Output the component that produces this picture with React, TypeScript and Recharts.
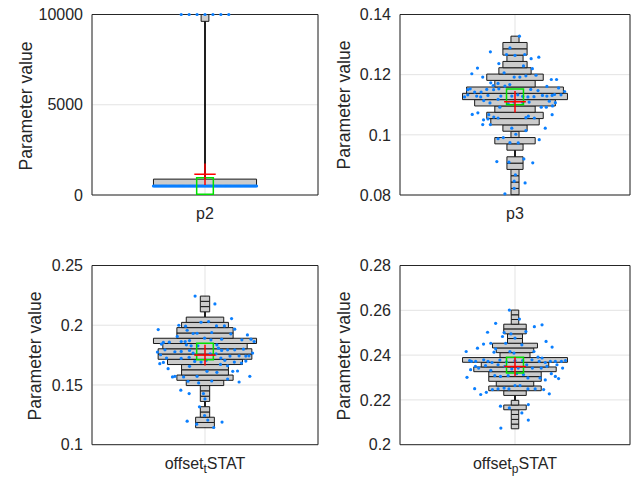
import React from 'react';
import {
  ComposedChart,
  XAxis,
  YAxis,
  CartesianGrid,
  Scatter,
  ReferenceArea,
  ReferenceLine
} from 'recharts';

const FONT = '"Liberation Sans", Arial, Helvetica, sans-serif';
const INK = '#262626';

// ---- p2: samples pile up at the lower bound, a few reach the upper bound
const p2Levels = [500, 10000];
const p2LevelCounts = [93, 7];
const p2BinEdges = [
  500, 880, 1260, 1640, 2020, 2400, 2780, 3160, 3540, 3920, 4300, 4680, 5060,
  5440, 5820, 6200, 6580, 6960, 7340, 7720, 8100, 8480, 8860, 9240, 9620, 10000
];
const p2BinCounts = [93, 0, 0, 0, 0, 0, 0, 0, 0, 0, 0, 0, 0, 0, 0, 0, 0, 0, 0, 0, 0, 0, 0, 0, 7];

// ---- p3
const p3Values = [
  0.1328, 0.1289, 0.1276, 0.1267, 0.1264, 0.1267, 0.1258, 0.1253, 0.1237, 0.1229,
  0.1222, 0.1203, 0.1206, 0.122, 0.1192, 0.1192, 0.1192, 0.1196, 0.1198, 0.1184,
  0.1184, 0.1171, 0.1173, 0.1164, 0.1151, 0.1153, 0.1162, 0.115, 0.1153, 0.1142,
  0.1142, 0.115, 0.1167, 0.1151, 0.1161, 0.1156, 0.1144, 0.1147, 0.1126, 0.1129,
  0.1126, 0.1131, 0.1129, 0.1129, 0.1133, 0.1128, 0.1126, 0.1127, 0.1131, 0.1129,
  0.1131, 0.1134, 0.1133, 0.1133, 0.1114, 0.1106, 0.1118, 0.1108, 0.1109, 0.1112,
  0.1107, 0.1109, 0.1092, 0.1103, 0.1092, 0.1092, 0.1096, 0.1068, 0.1073, 0.105,
  0.1067, 0.1053, 0.1059, 0.1034, 0.1034, 0.1056, 0.1057, 0.1062, 0.1056, 0.1067,
  0.1022, 0.1014, 0.1022, 0.1002, 0.0991, 0.0974, 0.0973, 0.0987, 0.0984, 0.092,
  0.0911, 0.0909, 0.0907, 0.0867, 0.0846, 0.0822, 0.084, 0.0804
];
const p3Jitter = [
  1.1, -1.25, -6.1, -2.1, 0, 2.4, 5.9, 4, -4, 2.1,
  -9.3, -10.7, -2.7, 4.3, -8, -0.2, 1.2, 2.7, 5.2, 9,
  10.3, -4.2, -6, -5.4, -7, -4, -2.5, -11.7, -11.1, -10,
  -8.4, -5.3, -1.3, 3.9, 7.9, 10.8, 12.3, 5.7, -12.5, -9.5,
  -8.5, -6.7, -3.5, -0.8, 0.7, 1.9, 3.2, 4.7, 6.8, 7.9,
  9.2, 9.8, 11.4, -11.7, -7.75, -6.2, -4.2, 1.9, 3.5, 8.5,
  10, -0.25, -3.75, -1.7, 6.5, 7.75, 9.3, -10.6, -9.2, -7.8,
  -6.5, -6.7, -5.25, -8, -6.1, -4.2, 2.7, 3.3, 4.8, 9.2,
  7.5, 2.7, -0.8, 0.2, -2.9, -1.25, 0.8, -4.2, 6, 2.2,
  -4.5, -1.5, 4.4, 0.1, -0.2, -0.2, 2.5, -2.5
];
const p3BinEdges = [
  0.0801, 0.0822, 0.0843, 0.0864, 0.0885, 0.0906, 0.0927, 0.0949, 0.097, 0.0991,
  0.1012, 0.1033, 0.1054, 0.1075, 0.1096, 0.1117, 0.1138, 0.1159, 0.1181, 0.1202,
  0.1223, 0.1244, 0.1265, 0.1286, 0.1307, 0.1328
];
const p3BinCounts = [1, 1, 1, 1, 2, 2, 0, 2, 5, 1, 3, 6, 7, 5, 10, 13, 12, 5, 7, 4, 3, 2, 3, 3, 1];

// ---- offset_t STAT
const offTValues = [
  0.2244, 0.2178, 0.2025, 0.2031, 0.2056, 0.2, 0.1992, 0.1994, 0.1994, 0.1964,
  0.1958, 0.1967, 0.1931, 0.1933, 0.1939, 0.1928, 0.1919, 0.1906, 0.1892, 0.1878,
  0.1883, 0.1856, 0.1858, 0.1864, 0.1864, 0.1872, 0.1878, 0.1883, 0.1864, 0.1842,
  0.1836, 0.1828, 0.1828, 0.1836, 0.1775, 0.1794, 0.1778, 0.1781, 0.1789, 0.1808,
  0.1789, 0.1794, 0.1794, 0.18, 0.1767, 0.1753, 0.1767, 0.1761, 0.1761, 0.1742,
  0.1744, 0.1742, 0.1744, 0.1689, 0.1678, 0.1722, 0.1731, 0.1697, 0.1692, 0.1706,
  0.1725, 0.1706, 0.1692, 0.17, 0.1725, 0.1683, 0.1636, 0.1656, 0.1614, 0.1672,
  0.1606, 0.1661, 0.1614, 0.1617, 0.1567, 0.1572, 0.1572, 0.1533, 0.155, 0.1572,
  0.1567, 0.1531, 0.1525, 0.1517, 0.1456, 0.1428, 0.1428, 0.1383, 0.1317, 0.1244,
  0.1197, 0.1172, 0.1144, 0.1189, 0.1206
];
const offTJitter = [
  -2.5, 2.5, -1, 0.9, 6.7, -6.6, -4.9, 2.9, 4.9, -11.8,
  -4.5, 7.5, -3, -2, 1.7, 6.5, 10.7, -7, -0.1, 1.5,
  4.2, -10.5, -9, -6, -5, -3.9, 9.3, 11.6, 12.4, -11,
  -4.7, -3.5, -1.8, 3, -12, -10.1, -7.6, -6, -3.9, 3.4,
  4.2, 5.7, 7.5, 9.7, 12, -11.2, -3, 1.3, 2.8, 6.3,
  8.6, 10.3, 11.1, -10.5, -11.4, -6, -4, -2.6, -1, 0.3,
  4, 5, 7.4, 10.3, -9.7, 9.2, -9.3, -3.9, 0.5, 3.9,
  3, 5.7, 7, 8.2, -8.2, -7.6, -2, 1.7, 5.7, 11.3,
  -5.4, -4.3, 8.6, -1.6, -6.1, -4, -0.4, 0, -1.4, -0.1,
  -4.5, -2.1, 2.2, 4.3, 0.7
];
const offTBinEdges = [
  0.1142, 0.1186, 0.123, 0.1274, 0.1318, 0.1362, 0.1406, 0.1451, 0.1495, 0.1539,
  0.1583, 0.1627, 0.1671, 0.1715, 0.1759, 0.1803, 0.1847, 0.1891, 0.1935, 0.198,
  0.2024, 0.2068, 0.2112, 0.2156, 0.22, 0.2244
];
const offTBinCounts = [2, 2, 1, 1, 0, 1, 1, 1, 4, 6, 5, 5, 8, 10, 10, 9, 11, 6, 6, 5, 4, 0, 1, 1, 1];

// ---- offset_p STAT
const offPValues = [
  0.2601, 0.2561, 0.2542, 0.2527, 0.2535, 0.2502, 0.2501, 0.2495, 0.2505, 0.2483,
  0.2476, 0.2461, 0.2449, 0.2453, 0.2428, 0.2453, 0.2446, 0.2431, 0.2436, 0.2416,
  0.2413, 0.2416, 0.2409, 0.2416, 0.2372, 0.2376, 0.2372, 0.2379, 0.2372, 0.2367,
  0.2378, 0.237, 0.2375, 0.2376, 0.2379, 0.2372, 0.2367, 0.2372, 0.2372, 0.2372,
  0.2376, 0.2387, 0.2391, 0.2335, 0.235, 0.2342, 0.2353, 0.2332, 0.2357, 0.235,
  0.2338, 0.2342, 0.2357, 0.2342, 0.2342, 0.235, 0.2357, 0.2342, 0.2301, 0.2308,
  0.2305, 0.2317, 0.2313, 0.2298, 0.2298, 0.2289, 0.2305, 0.2295, 0.2317, 0.2308,
  0.225, 0.2224, 0.2234, 0.2246, 0.2249, 0.2253, 0.2249, 0.2264, 0.2264, 0.2249,
  0.2249, 0.2246, 0.2227, 0.2172, 0.2164, 0.2179, 0.2142, 0.211, 0.2074
];
const offPJitter = [
  -1.4, 1.1, -4.8, 4.8, 6.7, -6.8, -2.7, -1, 2.7, -3.1,
  0, 7.7, -7.8, -6, -4.8, -2.3, 1.7, -9.3, 9.2, -12.1,
  -5.2, -1.25, -0.25, 4.7, -10.8, -11.25, -9.75, -7.75, -6.7, -5.7,
  -3.75, -2.1, 0, 1.9, 4.2, 6, 7.5, 8.75, 10, 11.5,
  12.5, 6.7, 5.7, -11, -9.8, -9, -7.3, -6, -4.2, -2.5,
  -0.8, 0.8, 2.9, 4.3, 6.5, 7.9, 10.4, 11.8, -11.9, -5,
  -3.6, 0.4, 2.1, 3.2, 6.2, 7.5, 10, 10.8, 9, -1.7,
  -10, -8.5, -7.1, -5.6, -4.2, -2.7, -1.5, 0, 1.25, 3.2,
  5, 7.1, 8.5, -3.6, -1.4, 3.3, 1.7, 3.3, -3.5
];
const offPBinEdges = [
  0.2071, 0.2092, 0.2113, 0.2135, 0.2156, 0.2177, 0.2198, 0.222, 0.2241, 0.2262,
  0.2283, 0.2304, 0.2326, 0.2347, 0.2368, 0.2389, 0.2411, 0.2432, 0.2453, 0.2474,
  0.2495, 0.2517, 0.2538, 0.2559, 0.258, 0.2601
];
const offPBinCounts = [1, 1, 1, 1, 3, 1, 0, 3, 7, 5, 7, 7, 11, 9, 14, 4, 5, 6, 2, 2, 3, 3, 1, 1, 1];

// ---- summary markers, one per panel (p2, p3, offset_t, offset_p)
const medians = [500, 0.1126, 0.1781, 0.2355];
const medianErr = [460, 0.0026, 0.0069, 0.0035];
const means = [1150, 0.111, 0.175, 0.2349];
const meanErr = [600, 0.0036, 0.0087, 0.0043];

// x axis runs in "bar units" (about 4px each)
const X_HALF = 28.5;
const MAX_BAR_HALF = 13;
const MEDIAN_HALF = 2.1;
const MEAN_HALF = 2.7;
const Y_AXIS_W = 60;
const X_AXIS_H = 30;

// identical values get spread evenly side by side
function spreadTies(values: number[]) {
  const groups = new Map<number, number[]>();
  values.forEach((v, i) => {
    if (!groups.has(v)) groups.set(v, []);
    groups.get(v)!.push(i);
  });
  const out: number[] = new Array(values.length).fill(0);
  groups.forEach((idx) => {
    const n = idx.length;
    const step = n > 1 ? Math.min(2, (2 * MAX_BAR_HALF) / (n - 1)) : 0;
    idx.forEach((i, k) => {
      out[i] = (k - (n - 1) / 2) * step;
    });
  });
  return out;
}

const p2Values = p2Levels.flatMap((v, i) => new Array(p2LevelCounts[i]).fill(v));

const Dot = (p: any) => <circle cx={p.cx} cy={p.cy} r={1.6} fill="#0a7fff" />;

const XTick = (props: any) => {
  const { x, y, parts } = props;
  const [main, sub, tail] = parts;
  return (
    <text x={x} y={y + 24} textAnchor="middle" fontSize={16} fill={INK} fontFamily={FONT}>
      {main}
      {sub ? <tspan dy={4.5} fontSize={12}>{sub}</tspan> : null}
      {tail ? <tspan dy={-4.5}>{tail}</tspan> : null}
    </text>
  );
};

interface PanelProps {
  values: number[];
  jitter: number[];
  edges: number[];
  counts: number[];
  idx: number;
  yDomain: [number, number];
  yTicks: number[];
  xParts: string[];
  left: number;
  top: number;
  width: number;
  height: number;
  plot: { top: number; right: number; bottom: number; left: number };
  labelX: number;
  labelY: number;
}

function Panel(props: PanelProps) {
  const { values, jitter, edges, counts, idx, yDomain, yTicks, xParts, plot } = props;
  const maxCount = Math.max(...counts);
  const pts = values.map((v, i) => ({ x: jitter[i], y: v }));
  const lo = Math.min(...values);
  const hi = Math.max(...values);
  const margin = {
    top: plot.top,
    right: plot.right,
    left: plot.left - Y_AXIS_W,
    bottom: plot.bottom - X_AXIS_H
  };
  return (
    <>
      <div style={{ position: 'absolute', left: props.left, top: props.top }}>
        <ComposedChart width={props.width} height={props.height} margin={margin}>
          <CartesianGrid stroke="#e3e3e3" />
          <XAxis
            type="number"
            dataKey="x"
            domain={[-X_HALF, X_HALF]}
            ticks={[0]}
            height={X_AXIS_H}
            axisLine={false}
            tickLine={false}
            tickSize={0}
            tickMargin={0}
            tick={<XTick parts={xParts} />}
          />
          <YAxis
            type="number"
            dataKey="y"
            domain={yDomain}
            ticks={yTicks}
            width={Y_AXIS_W}
            axisLine={false}
            tickLine={false}
            tickSize={0}
            tickMargin={9}
            tick={{ fontSize: 16, fill: INK, fontFamily: FONT }}
          />
          <ReferenceArea
            x1={-X_HALF}
            x2={X_HALF}
            y1={yDomain[0]}
            y2={yDomain[1]}
            fill="none"
            stroke={INK}
            strokeWidth={1}
            zIndex={80}
          />
          <ReferenceArea
            x1={-0.22}
            x2={0.22}
            y1={lo}
            y2={hi}
            fill="#000"
            fillOpacity={1}
            zIndex={90}
          />
          {counts.map((c, i) =>
            c > 0 ? (
              <ReferenceArea
                key={i}
                x1={(-c / maxCount) * MAX_BAR_HALF}
                x2={(c / maxCount) * MAX_BAR_HALF}
                y1={edges[i]}
                y2={edges[i + 1]}
                fill="#cccccc"
                fillOpacity={1}
                stroke="#1a1a1a"
                strokeWidth={1}
                zIndex={100}
              />
            ) : null
          )}
          <Scatter data={pts} dataKey="y" shape={Dot} isAnimationActive={false} zIndex={600} />
          <ReferenceArea
            x1={-MEDIAN_HALF}
            x2={MEDIAN_HALF}
            y1={medians[idx] - medianErr[idx]}
            y2={medians[idx] + medianErr[idx]}
            fill="none"
            stroke="#00e000"
            strokeWidth={1.5}
            zIndex={700}
          />
          <ReferenceLine
            segment={[
              { x: 0, y: means[idx] - meanErr[idx] },
              { x: 0, y: means[idx] + meanErr[idx] }
            ]}
            stroke="#ff0000"
            strokeWidth={1.5}
            zIndex={800}
          />
          <ReferenceLine
            segment={[
              { x: -MEAN_HALF, y: means[idx] },
              { x: MEAN_HALF, y: means[idx] }
            ]}
            stroke="#ff0000"
            strokeWidth={1.5}
            zIndex={800}
          />
        </ComposedChart>
      </div>
      <div
        style={{
          position: 'absolute',
          left: props.labelX,
          top: props.labelY,
          transform: 'translate(-50%, -50%) rotate(-90deg)',
          whiteSpace: 'nowrap',
          fontFamily: FONT,
          fontSize: 17.6,
          lineHeight: 1,
          color: INK
        }}
      >
        Parameter value
      </div>
    </>
  );
}

export default function App() {
  return (
    <div
      style={{
        position: 'absolute',
        left: 0,
        top: 0,
        width: 634,
        height: 477,
        background: '#fff',
        overflow: 'hidden'
      }}
    >
      <Panel
        values={p2Values}
        jitter={spreadTies(p2Values)}
        edges={p2BinEdges}
        counts={p2BinCounts}
        idx={0}
        yDomain={[0, 10000]}
        yTicks={[0, 5000, 10000]}
        xParts={['p2']}
        left={0}
        top={0}
        width={320}
        height={238}
        plot={{ top: 14.5, right: 2, bottom: 43, left: 92 }}
        labelX={26.5}
        labelY={105.5}
      />
      <Panel
        values={p3Values}
        jitter={p3Jitter}
        edges={p3BinEdges}
        counts={p3BinCounts}
        idx={1}
        yDomain={[0.08, 0.14]}
        yTicks={[0.08, 0.1, 0.12, 0.14]}
        xParts={['p3']}
        left={317}
        top={0}
        width={317}
        height={238}
        plot={{ top: 14.5, right: 4, bottom: 43, left: 83 }}
        labelX={344.5}
        labelY={105}
      />
      <Panel
        values={offTValues}
        jitter={offTJitter}
        edges={offTBinEdges}
        counts={offTBinCounts}
        idx={2}
        yDomain={[0.1, 0.25]}
        yTicks={[0.1, 0.15, 0.2, 0.25]}
        xParts={['offset', 't', 'STAT']}
        left={0}
        top={238}
        width={320}
        height={239}
        plot={{ top: 27.5, right: 2, bottom: 32.3, left: 92 }}
        labelX={35.8}
        labelY={356}
      />
      <Panel
        values={offPValues}
        jitter={offPJitter}
        edges={offPBinEdges}
        counts={offPBinCounts}
        idx={3}
        yDomain={[0.2, 0.28]}
        yTicks={[0.2, 0.22, 0.24, 0.26, 0.28]}
        xParts={['offset', 'p', 'STAT']}
        left={317}
        top={238}
        width={317}
        height={239}
        plot={{ top: 27.5, right: 4, bottom: 32.3, left: 83 }}
        labelX={344.5}
        labelY={355.5}
      />
    </div>
  );
}
